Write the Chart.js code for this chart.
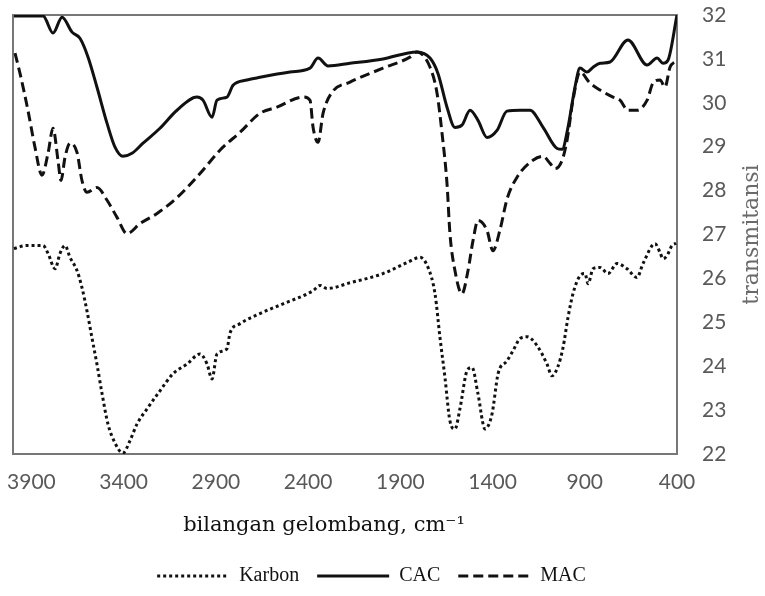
<!DOCTYPE html>
<html>
<head>
<meta charset="utf-8">
<script src="https://cdn.jsdelivr.net/npm/chart.js@4.4.1/dist/chart.umd.min.js"></script>
<style>
html, body { margin: 0; padding: 0; background: #fff; }
</style>
</head>
<body>
<canvas id="ftirChart" width="765" height="596"></canvas>
<script>
// wavenumbers (cm-1) and transmittance
var karbonWave = [3995, 3924, 3837, 3810, 3772, 3745, 3718, 3691, 3653, 3626, 3599, 3572, 3545, 3517, 3485, 3447, 3404, 3366, 3328, 3273, 3203, 3132, 3056, 2986, 2948, 2921, 2894, 2840, 2823, 2769, 2661, 2536, 2373, 2335, 2297, 2173, 1994, 1864, 1793, 1750, 1712, 1685, 1658, 1631, 1604, 1576, 1538, 1511, 1479, 1441, 1403, 1370, 1322, 1289, 1251, 1213, 1159, 1105, 1078, 1045, 1018, 991, 964, 926, 899, 882, 855, 817, 774, 725, 671, 617, 584, 519, 492, 476, 454, 427, 405];
var karbonT = [26.68, 26.75, 26.75, 26.57, 26.22, 26.57, 26.75, 26.48, 26.18, 25.79, 25.26, 24.65, 24.05, 23.37, 22.68, 22.25, 22.02, 22.30, 22.68, 23.03, 23.44, 23.83, 24.05, 24.28, 24.05, 23.71, 24.28, 24.40, 24.76, 24.97, 25.20, 25.42, 25.72, 25.84, 25.77, 25.90, 26.11, 26.36, 26.48, 26.25, 25.65, 24.65, 23.74, 22.75, 22.57, 23.05, 23.90, 23.97, 23.37, 22.57, 22.91, 23.83, 24.12, 24.35, 24.63, 24.67, 24.47, 24.05, 23.78, 24.00, 24.42, 25.11, 25.65, 26.06, 26.11, 25.88, 26.22, 26.25, 26.11, 26.34, 26.22, 26.02, 26.34, 26.79, 26.59, 26.45, 26.52, 26.75, 26.80];

var cacWave = [3995, 3837, 3783, 3734, 3680, 3637, 3593, 3545, 3490, 3447, 3404, 3355, 3295, 3203, 3111, 3002, 2970, 2921, 2894, 2840, 2807, 2731, 2661, 2498, 2390, 2346, 2292, 2173, 1994, 1810, 1739, 1696, 1647, 1604, 1566, 1522, 1479, 1430, 1376, 1322, 1251, 1197, 1126, 1050, 1023, 991, 953, 926, 888, 855, 817, 763, 666, 562, 508, 476, 449, 400];
var cacT = [31.98, 31.98, 31.59, 31.95, 31.61, 31.47, 31.04, 30.36, 29.53, 28.99, 28.78, 28.85, 29.08, 29.42, 29.83, 30.13, 30.06, 29.67, 30.06, 30.13, 30.40, 30.52, 30.58, 30.70, 30.79, 31.02, 30.84, 30.90, 31.00, 31.16, 31.02, 30.67, 29.90, 29.44, 29.49, 29.83, 29.60, 29.21, 29.37, 29.81, 29.83, 29.83, 29.44, 28.96, 28.94, 29.44, 30.36, 30.79, 30.70, 30.81, 30.90, 30.93, 31.43, 30.86, 31.02, 30.90, 30.97, 32.00];

var macWave = [3989, 3962, 3919, 3881, 3843, 3810, 3783, 3756, 3740, 3718, 3691, 3653, 3626, 3599, 3545, 3490, 3436, 3382, 3311, 3219, 3111, 2986, 2878, 2769, 2661, 2569, 2428, 2390, 2373, 2346, 2319, 2270, 2173, 1994, 1848, 1810, 1739, 1701, 1674, 1647, 1631, 1604, 1566, 1533, 1506, 1479, 1430, 1398, 1360, 1322, 1268, 1181, 1126, 1088, 1061, 1023, 996, 964, 926, 872, 817, 747, 709, 666, 617, 562, 530, 492, 465, 438, 411, 402];
var macT = [31.13, 30.67, 29.83, 28.99, 28.35, 28.85, 29.42, 28.69, 28.23, 28.76, 29.08, 28.87, 28.23, 27.96, 28.07, 27.78, 27.39, 27.02, 27.25, 27.48, 27.84, 28.39, 28.92, 29.33, 29.76, 29.90, 30.13, 30.06, 29.44, 29.10, 29.76, 30.24, 30.47, 30.79, 31.04, 31.16, 30.81, 30.22, 29.31, 28.16, 27.02, 26.18, 25.65, 26.18, 26.86, 27.32, 27.09, 26.63, 27.10, 27.80, 28.30, 28.69, 28.78, 28.62, 28.50, 28.69, 29.15, 30.06, 30.70, 30.45, 30.29, 30.13, 30.06, 29.83, 29.83, 30.06, 30.45, 30.52, 30.36, 30.81, 30.93, 30.95];

var xTicks = [3900, 3400, 2900, 2400, 1900, 1400, 900, 400];
var xTitle = 'bilangan gelombang, cm\u207B\u00B9';
var yTitle = 'transmitansi';

function toPoints(xs, ys) {
    return xs.map(function (x, i) { return {x: x, y: ys[i]}; });
}

var tickFont = {family: 'Lato, "Open Sans", sans-serif', size: 21};

// plot frame plus the two axis titles
var frameAndTitles = {
    id: 'frameAndTitles',
    beforeDatasetsDraw: function (chart) {
        var ctx = chart.ctx, a = chart.chartArea;
        ctx.save();
        ctx.strokeStyle = '#777';
        ctx.lineWidth = 2;
        ctx.strokeRect(a.left, a.top, a.right - a.left, a.bottom - a.top);
        ctx.restore();
    },
    afterDraw: function (chart) {
        var ctx = chart.ctx, a = chart.chartArea;
        ctx.save();
        ctx.textAlign = 'center';
        ctx.textBaseline = 'middle';
        ctx.fillStyle = '#111';
        ctx.font = '21px "DejaVu Serif", serif';
        ctx.fillText(xTitle, (a.left + a.right) / 2 - 21, a.bottom + 72);
        ctx.fillStyle = '#6a6a6a';
        ctx.font = '22px "DejaVu Serif", serif';
        ctx.translate(a.right + 75, (a.top + a.bottom) / 2);
        ctx.rotate(-Math.PI / 2);
        ctx.fillText(yTitle, 0, 0);
        ctx.restore();
    }
};

var ctx1 = document.getElementById('ftirChart').getContext('2d');
var ftirChart = new Chart(ctx1, {
    type: 'line',
    data: {
        datasets: [{
            label: 'Karbon',
            data: toPoints(karbonWave, karbonT),
            borderColor: '#111',
            borderWidth: 3,
            borderDash: [3, 3],
            cubicInterpolationMode: 'monotone'
        }, {
            label: 'CAC',
            data: toPoints(cacWave, cacT),
            borderColor: '#111',
            borderWidth: 3,
            cubicInterpolationMode: 'monotone'
        }, {
            label: 'MAC',
            data: toPoints(macWave, macT),
            borderColor: '#111',
            borderWidth: 3,
            borderDash: [10, 5],
            cubicInterpolationMode: 'monotone'
        }]
    },
    options: {
        responsive: false,
        animation: false,
        elements: { point: { radius: 0, hoverRadius: 0 } },
        layout: { padding: { left: 13, right: 35, top: 15, bottom: 0 } },
        scales: {
            x: {
                type: 'linear',
                reverse: true,
                min: 400,
                max: 4000,
                grid: { display: false, tickLength: 14 },
                border: { display: false },
                afterBuildTicks: function (s) {
                    s.ticks = xTicks.map(function (v) { return {value: v}; });
                },
                afterFit: function (s) { s.height = 94; },
                ticks: {
                    autoSkip: false,
                    maxRotation: 0,
                    padding: 2,
                    color: '#595959',
                    font: tickFont,
                    callback: function (v) { return String(v); }
                }
            },
            y: {
                position: 'right',
                min: 22,
                max: 32,
                grid: { display: false, tickLength: 23 },
                border: { display: false },
                afterFit: function (s) { s.width = 53; },
                ticks: {
                    stepSize: 1,
                    padding: 2,
                    color: '#595959',
                    font: tickFont
                }
            }
        },
        plugins: {
            tooltip: { enabled: false },
            legend: {
                position: 'bottom',
                labels: {
                    usePointStyle: true,
                    pointStyle: 'line',
                    pointStyleWidth: 72,
                    padding: 18,
                    color: '#111',
                    font: { family: '"Liberation Serif", serif', size: 20 },
                    generateLabels: function (chart) {
                        var items = Chart.defaults.plugins.legend.labels.generateLabels(chart);
                        items.forEach(function (it) {
                            var ds = chart.data.datasets[it.datasetIndex];
                            it.lineDash = ds.borderDash || [];
                            it.lineWidth = 3;
                            it.strokeStyle = '#111';
                        });
                        return items;
                    }
                }
            }
        }
    },
    plugins: [frameAndTitles]
});
</script>
</body>
</html>
